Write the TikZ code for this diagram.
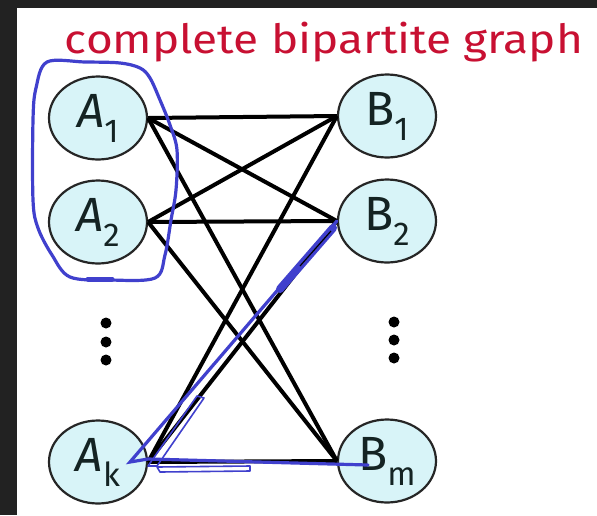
\documentclass[tikz,border=0pt]{standalone}
\usepackage{fontspec}
\setmainfont{Fira Sans}
\usetikzlibrary{shapes.geometric}
\definecolor{nodefill}{RGB}{216,244,248}
\definecolor{inkblue}{RGB}{64,64,205}
\definecolor{inkred}{RGB}{200,16,50}
\definecolor{framecol}{RGB}{34,34,34}
\definecolor{labelcol}{RGB}{20,35,35}
\newcommand\lsub[1]{\raisebox{-15pt}{\fontsize{33}{33}\selectfont #1}}
\tikzset{
  vert/.style={ellipse, draw=black!85, line width=2.2pt, fill=nodefill,
    minimum width=98pt, minimum height=83pt, inner sep=0pt,
    font=\fontsize{48}{48}\selectfont, text=labelcol},
  edgeline/.style={line width=4pt, black},
  ink/.style={inkblue, line width=3.2pt, line join=round, line cap=round},
  thinink/.style={inkblue, line width=1.6pt, line join=round},
  vdot/.style={circle, fill=black, inner sep=0pt, minimum size=11pt}
}
\begin{document}
\begin{tikzpicture}[x=1pt,y=-1pt]
\useasboundingbox (0,0) rectangle (597,515);
\fill[white] (0,0) rectangle (597,515);
\fill[framecol] (0,0) rectangle (17,515);
\fill[framecol] (0,0) rectangle (597,8);

% title
\node[inner sep=0pt] (title) at (324,42)
  {\resizebox*{518pt}{40pt}{\color{inkred}complete bipartite graph}};

% vertices
\node[vert] (A1) at (98,118) {{\itshape A}\lsub{1}};
\node[vert] (A2) at (98,222) {{\itshape A}\lsub{2}};
\node[vert] (Ak) at (98,462) {{\itshape A}\lsub{k}};
\node[vert] (B1) at (387,116) {B\lsub{1}};
\node[vert] (B2) at (387,221) {B\lsub{2}};
\node[vert] (Bm) at (387,461) {B\lsub{m}};

% vertical dots
\node[vdot] (dl1) at (106,323) {};
\node[vdot] (dl2) at (106,342) {};
\node[vdot] (dl3) at (106,360) {};
\node[vdot] (dr1) at (394,322) {};
\node[vdot] (dr2) at (394,340) {};
\node[vdot] (dr3) at (394,358) {};

% edges
\foreach \a in {A1,A2,Ak}
  \foreach \b in {B1,B2,Bm}
    \draw[edgeline] (\a.east) -- (\b.west);

% blue annotations
\draw[ink] plot[smooth cycle, tension=0.55] coordinates {
  (47,62) (85,62) (120,63) (140,68) (150,78) (160,100) (170,125)
  (177,150) (176,190) (171,220) (165,255) (155,278) (110,280)
  (70,277) (52,255) (38,228) (33,200) (33,120) (36,88)};
\draw[inkblue, line width=5pt, line cap=round] (88,279) -- (112,279);

\coordinate (tip) at (130,462);
\coordinate (bmin) at (368,465);
\draw[ink, line join=miter] (bmin) -- ([yshift=3pt]Ak.east) -- (tip) -- (B2.west);
\draw[inkblue, line width=8pt, line cap=round] (280,289) -- (333,228);
\draw[black, line width=1.2pt] (300,266) -- (331,231);
\draw[thinink] (148,466) -- (197,396) -- (204,398) -- (157,466) -- cycle;
\draw[thinink] (157,467) -- (250,466) -- (250,471) -- (160,472) -- cycle;
\end{tikzpicture}
\end{document}
